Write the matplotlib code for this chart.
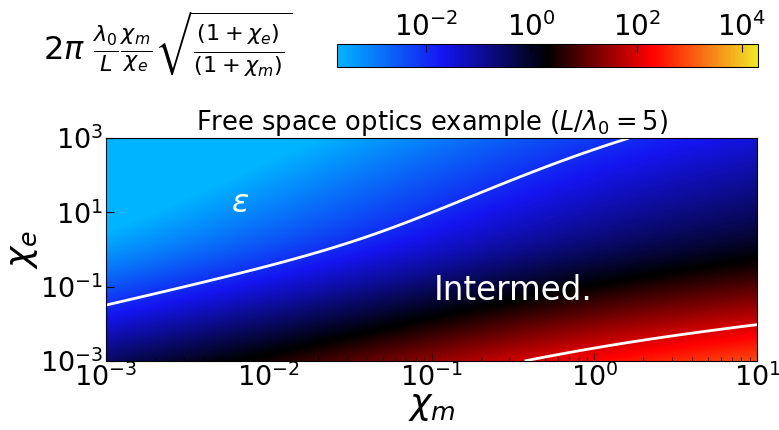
import numpy as np
import matplotlib.pyplot as plt
from matplotlib.colors import LogNorm, LinearSegmentedColormap

# parameters of the map
L_over_lambda0 = 5
chi_m_range = [1e-3, 1e1]
chi_e_range = [1e-3, 1e3]
color_range = [2e-4, 2e4]
boundary_levels = [1e-2, 1e2]
cmap_colors = ["#00b4ff", "#1414f0", "black", "red", "#f0e628"]

chi_m = np.logspace(np.log10(chi_m_range[0]), np.log10(chi_m_range[1]), 500)
chi_e = np.logspace(np.log10(chi_e_range[0]), np.log10(chi_e_range[1]), 500)
CM, CE = np.meshgrid(chi_m, chi_e)
ratio = 2 * np.pi / L_over_lambda0 * CM / CE * np.sqrt((1 + CE) / (1 + CM)) / 4

cmap = LinearSegmentedColormap.from_list("bkr", cmap_colors)
norm = LogNorm(vmin=color_range[0], vmax=color_range[1])

fig = plt.figure(figsize=(7.79, 4.3), dpi=100)
ax = fig.add_axes([0.136, 0.1605, 0.836, 0.5185])
cax = fig.add_axes([0.4326, 0.845, 0.540, 0.052])

mesh = ax.pcolormesh(CM, CE, ratio, cmap=cmap, norm=norm, shading="gouraud", rasterized=True)
ax.contour(CM, CE, ratio, levels=boundary_levels, colors="white", linewidths=2)
ax.set_xscale("log")
ax.set_yscale("log")
ax.set_xlim(chi_m_range)
ax.set_ylim(chi_e_range)
ax.set_xticks([1e-3, 1e-2, 1e-1, 1e0, 1e1])
ax.set_yticks([1e-3, 1e-1, 1e1, 1e3])
ax.tick_params(which="both", direction="in", labelsize=19.5)
ax.tick_params(which="major", length=6)
ax.tick_params(which="minor", length=3)
ax.tick_params(axis="x", pad=2)
ax.tick_params(axis="y", pad=2)
ax.set_xlabel(r"$\chi_m$", fontsize=26, labelpad=-2)
ax.set_ylabel(r"$\chi_e$", fontsize=26, labelpad=0)
ax.set_title(r"Free space optics example ($L/\lambda_0 = 5$)", fontsize=18.5, pad=5)

ax.text(6.7e-3, 17, r"$\epsilon$", color="white", fontsize=23, ha="center", va="center")
ax.text(0.316, 0.081, "Intermed.", color="white", fontsize=23.5, ha="center", va="center")

cb = fig.colorbar(mesh, cax=cax, orientation="horizontal", ticks=[1e-2, 1e0, 1e2, 1e4])
cax.xaxis.set_ticks_position("top")
cax.xaxis.set_label_position("top")
cax.tick_params(which="major", direction="in", labelsize=20, length=6, pad=2)
cax.minorticks_off()

fig.text(0.215, 0.897,
         r"$2\pi\ \frac{\lambda_0}{L}\frac{\chi_m}{\chi_e}\sqrt{\frac{(1+\chi_e)}{(1+\chi_m)}}$",
         fontsize=23, ha="center", va="center")

fig.savefig("out.png", dpi=100)
